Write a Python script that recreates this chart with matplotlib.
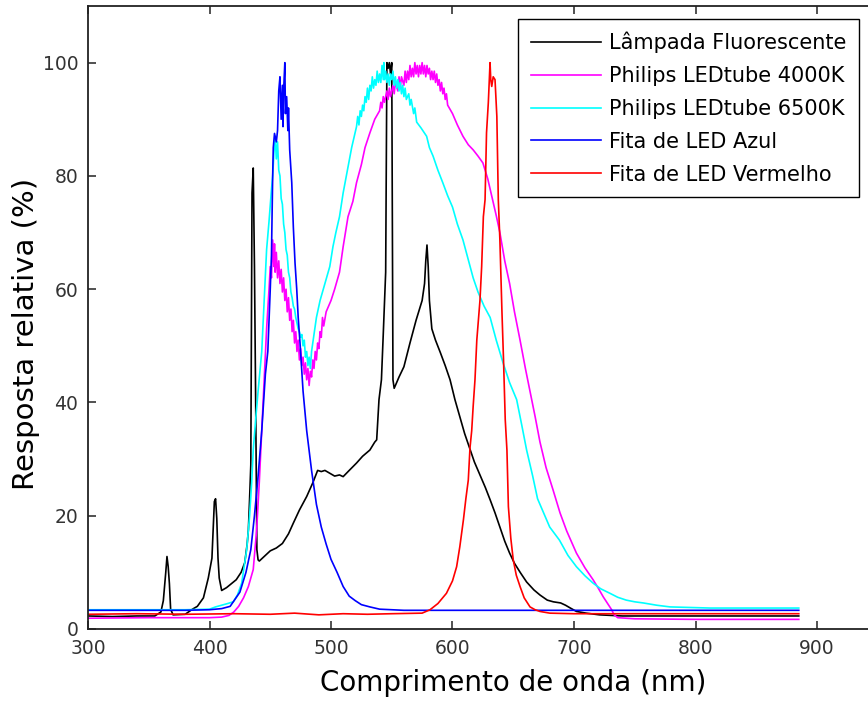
import matplotlib
matplotlib.use('Agg')
import matplotlib.pyplot as plt

# ---------------- data ----------------
fluor_nm = [300, 320, 340, 355, 360, 362, 364, 365, 366, 367, 368, 370, 380, 386, 390, 395, 399,
            402, 404, 405, 406, 407, 408, 410, 414, 418, 422, 426, 429, 431, 432, 433, 434, 435,
            436, 437, 438, 439, 440, 441, 445, 450, 455, 460, 465, 469, 474, 480, 485, 489, 492,
            495, 499, 503, 507, 510, 515, 521, 526, 532, 536, 537.6, 539.5, 541.5, 543, 545, 546,
            547, 548, 549, 550, 551, 552, 556, 560, 565, 570, 575, 577, 578, 579, 580, 581, 583,
            586, 590, 594, 598, 602, 606, 610, 614, 618, 623, 627, 631, 635, 639, 643, 647, 651,
            656, 661, 667, 672, 678, 683, 689, 693, 697, 702, 710, 721, 740, 800, 885]
fluor_val = [2.3, 2.2, 2.3, 2.3, 3.0, 5.0, 10.0, 12.8, 11.0, 8.0, 3.5, 2.5, 2.6, 3.5, 4.0, 5.5, 9.0,
             12.5, 22.5, 23.0, 19.5, 12.5, 9.0, 6.8, 7.3, 8.0, 8.7, 10.0, 11.7, 15.0, 17.5, 23.0,
             29.0, 77.0, 81.4, 64.0, 40.0, 14.0, 12.2, 12.0, 12.8, 13.8, 14.3, 15.1, 16.8, 18.7,
             21.0, 23.4, 25.8, 28.0, 27.8, 28.0, 27.5, 27.0, 27.2, 26.9, 28.0, 29.3, 30.5, 31.6,
             33.0, 33.4, 40.5, 44.0, 52.0, 63.0, 100.0, 99.0, 100.0, 98.0, 100.0, 44.0, 42.5, 44.5,
             46.3, 50.5, 54.5, 58.0, 61.0, 65.0, 67.8, 64.0, 58.0, 53.0, 51.0, 48.8, 46.5, 44.0,
             40.5, 37.5, 34.5, 32.0, 29.5, 27.0, 25.0, 22.8, 20.5, 18.0, 15.5, 13.4, 11.6, 9.9,
             8.3, 6.9, 6.0, 5.1, 4.8, 4.6, 4.2, 3.7, 3.1, 2.8, 2.5, 2.3, 2.3, 2.3]

led4000_nm = [300, 350, 400, 410, 416, 420, 424, 428, 432, 436, 438.8, 441, 443, 445, 447, 449, 450,
              451, 452, 453, 453.5, 454, 455, 456, 457, 458, 459, 460, 461, 462, 463, 464, 465, 466,
              467, 468, 469, 470, 471, 472, 473, 474, 475, 476, 477, 478, 479, 480, 481, 482, 483,
              484, 485, 486, 487, 488, 489, 490, 491, 492, 493, 494, 496, 500, 503, 507, 510, 514,
              518, 521, 525, 528, 532, 536, 540, 541, 542, 543, 544, 546, 547, 548, 549, 551, 552,
              553, 555, 556, 557, 558, 560, 561, 562, 563, 564, 565, 566, 567, 568, 569, 570, 571,
              572, 573, 574, 575, 576, 577, 578, 579, 580, 581, 582, 583, 584, 585, 586, 587, 588,
              589, 590, 591, 592, 593, 594, 595, 596, 600, 604, 608.6, 613, 617, 621, 625, 629, 633,
              636, 639, 643, 647, 651, 655.6, 660, 663.8, 668, 672, 677, 682.7, 688.5, 694, 702, 709,
              715.7, 720, 724, 728, 731, 733, 736, 750, 800, 885]
led4000_val = [1.9, 2.0, 2.0, 2.1, 2.4, 3.0, 4.0, 5.5, 7.5, 10.5, 17.5, 26.0, 35.0, 44.0, 53.0, 60.0,
               64.0, 62.0, 68.7, 64.0, 68.0, 63.0, 66.5, 62.0, 65.0, 61.0, 63.5, 59.5, 62.0, 58.0,
               60.0, 56.0, 58.5, 54.5, 56.5, 52.5, 54.5, 50.5, 52.5, 49.0, 51.0, 47.5, 49.5, 46.5,
               48.0, 45.0, 47.0, 44.0, 46.0, 43.0, 45.5, 44.5, 47.5, 46.0, 49.0, 47.5, 50.5, 49.5,
               52.5, 51.5, 55.0, 53.5, 56.0, 58.0, 60.0, 63.0, 67.5, 72.8, 75.5, 78.8, 82.0, 85.0,
               87.6, 90.0, 91.5, 93.0, 92.0, 94.0, 93.0, 95.0, 93.5, 95.5, 94.0, 96.0, 94.5, 96.5,
               95.0, 97.5, 95.5, 97.5, 96.0, 98.5, 96.5, 98.5, 97.0, 99.5, 97.5, 99.0, 97.5, 100.0,
               98.0, 99.5, 97.5, 99.5, 98.0, 100.0, 98.0, 99.5, 97.5, 99.5, 98.0, 99.0, 97.0, 98.5,
               97.0, 98.5, 96.5, 98.0, 96.0, 97.0, 95.0, 96.5, 94.5, 95.5, 93.5, 94.5, 92.5, 91.0,
               89.0, 87.0, 85.5, 84.6, 83.5, 82.3, 79.5, 75.8, 73.0, 70.0, 65.0, 61.0, 56.0, 51.0,
               46.0, 42.0, 37.5, 33.0, 28.5, 24.6, 20.5, 17.3, 13.4, 10.8, 8.7, 7.2, 5.7, 4.4, 3.4,
               2.5, 2.0, 1.8, 1.7, 1.7]

led6500_nm = [300, 380, 400, 405, 410, 415, 419.6, 423, 426.5, 430.6, 433, 434.7, 436, 438, 440, 443,
              445, 447, 449, 451, 452, 453, 454, 455, 456, 457, 458, 459, 460, 461, 462, 463, 464,
              465, 466, 467, 468, 469, 470, 471, 472, 473, 474, 475, 476, 477, 478, 479, 480, 481,
              482, 483, 484, 485, 488, 491, 495, 499, 501.6, 504, 507, 510, 514, 517, 521, 522, 523,
              524, 525, 526, 527, 528, 529, 530, 531, 532, 533, 534, 535, 536, 537, 538, 539, 540,
              541, 542, 543, 543.5, 544, 545, 546, 547, 548, 549, 550, 551, 552, 553, 554, 555, 556,
              557, 558, 559, 560, 561, 562, 564, 565, 566, 568, 569, 570.5, 574, 578.7, 581, 584,
              588, 592, 596, 600, 604, 608.6, 612, 617, 621, 626, 631, 636, 641.6, 647, 652.8, 657,
              661, 666, 670, 675, 680, 688, 695, 702, 709, 715.7, 722, 729.6, 736, 743, 750, 757,
              768, 779, 795, 812, 850, 885]
led6500_val = [3.4, 3.4, 3.5, 3.9, 4.2, 4.5, 4.8, 6.0, 8.1, 14.0, 20.0, 25.8, 31.6, 37.0, 42.0, 49.0,
               58.0, 67.0, 72.0, 77.6, 80.0, 84.0, 87.0, 83.0, 86.0, 81.0, 80.0, 76.0, 75.0, 71.5,
               70.0, 67.0, 66.0, 63.0, 62.0, 59.5, 58.5, 57.0, 56.5, 55.0, 54.0, 53.0, 52.5, 51.5,
               52.0, 50.0, 51.0, 48.0, 49.0, 46.5, 48.0, 46.0, 49.0, 50.5, 55.0, 58.0, 61.0, 64.0,
               67.5, 70.0, 72.8, 77.0, 81.6, 85.0, 88.7, 90.5, 89.0, 91.5, 90.5, 92.5, 91.5, 94.0,
               93.0, 95.5, 93.5, 96.0, 95.0, 97.5, 95.5, 97.0, 96.0, 98.5, 96.5, 98.0, 96.5, 99.5,
               97.0, 100.0, 97.0, 98.5, 96.5, 98.0, 96.0, 98.0, 97.0, 98.5, 96.0, 97.5, 95.5, 97.0,
               95.0, 96.5, 94.5, 96.0, 94.0, 95.5, 93.5, 94.5, 92.5, 93.5, 91.0, 92.0, 89.5, 88.5,
               87.0, 85.0, 83.5, 81.0, 78.8, 76.5, 74.5, 71.5, 68.7, 66.0, 62.0, 59.5, 57.0, 55.0,
               51.0, 47.0, 43.5, 40.5, 36.0, 31.6, 27.0, 23.0, 20.5, 18.0, 15.7, 13.0, 11.0, 9.4,
               8.1, 7.1, 6.3, 5.6, 5.1, 4.8, 4.6, 4.2, 3.9, 3.8, 3.7, 3.7, 3.7]

blue_nm = [300, 380, 400, 410, 417, 425, 430, 434, 437, 440, 443, 446, 448, 450, 451, 452, 452.5,
           453.5, 455, 456, 457, 458, 459, 460, 460.5, 461, 462, 462.5, 463.5, 464.5, 465, 466,
           467.7, 469, 470.4, 471.8, 473, 474.5, 477, 480, 484, 488, 492, 496, 500, 505, 510, 515,
           520, 525, 532, 540, 560, 600, 700, 800, 885]
blue_val = [3.3, 3.3, 3.4, 3.6, 4.0, 6.5, 10.0, 14.0, 20.0, 27.0, 35.0, 45.0, 49.0, 60.0, 66.0,
            80.0, 85.0, 87.5, 86.0, 88.0, 95.0, 97.5, 90.0, 96.0, 88.7, 95.0, 100.0, 91.0, 94.0,
            88.0, 92.0, 84.6, 78.8, 71.0, 64.6, 60.0, 55.0, 50.5, 42.0, 35.0, 28.0, 22.0, 18.0,
            15.0, 12.3, 10.0, 7.5, 5.8, 5.0, 4.3, 3.9, 3.5, 3.3, 3.3, 3.3, 3.3, 3.3]

red_nm = [300, 340, 380, 420, 450, 470, 490, 510, 530, 550, 575, 581.5, 588, 595, 600, 603.4, 606,
          609, 611, 613, 614.4, 615.8, 617, 618.5, 620, 622.6, 624, 625.4, 626.8, 628, 629.5,
          630.9, 631.5, 632.3, 633.5, 635, 636.5, 637.7, 639, 640.7, 642, 643.4, 644.8, 646, 648,
          650, 652.5, 655.6, 659, 663.8, 668, 672, 680, 700, 885]
red_val = [2.6, 2.7, 2.6, 2.7, 2.6, 2.8, 2.5, 2.7, 2.6, 2.7, 2.8, 3.4, 4.5, 6.3, 8.5, 11.0, 14.5,
           19.3, 23.0, 26.3, 32.0, 35.0, 39.3, 44.0, 51.0, 58.0, 64.0, 72.8, 75.8, 87.6, 93.0,
           100.0, 97.0, 95.8, 97.5, 97.0, 90.5, 75.8, 68.7, 56.0, 47.5, 37.0, 31.6, 21.6, 16.0,
           12.2, 9.5, 7.5, 5.5, 3.9, 3.4, 3.1, 2.8, 2.7, 2.7]

labels = ['Lâmpada Fluorescente', 'Philips LEDtube 4000K', 'Philips LEDtube 6500K',
          'Fita de LED Azul', 'Fita de LED Vermelho']
colors = ['#000000', '#ff00ff', '#00ffff', '#0000ff', '#ff0000']

x_ticks = [300, 400, 500, 600, 700, 800, 900]
y_ticks = [0, 20, 40, 60, 80, 100]

# ---------------- figure ----------------
plt.rcParams['font.family'] = ['DejaVu Sans']
W, H = 868, 701
PX_PER_NM = 1.215
fig = plt.figure(figsize=(W / 100, H / 100), dpi=100)
ax = fig.add_axes([88 / W, (H - 629) / H, 700 * PX_PER_NM / W, 623 / H])

series = [(fluor_nm, fluor_val), (led4000_nm, led4000_val), (led6500_nm, led6500_val),
          (blue_nm, blue_val), (red_nm, red_val)]
for (xs, ys), c, lab in zip(series, colors, labels):
    ax.plot(xs, ys, color=c, lw=1.2, label=lab)

ax.set_xlim(300, 1000)
ax.set_ylim(0, 110)
ax.set_xticks(x_ticks)
ax.set_yticks(y_ticks)
ax.tick_params(direction='in', top=True, right=True, length=6, width=1.1,
               labelsize=13.5, pad=7, labelcolor='#333333', color='#222222')
for s in ax.spines.values():
    s.set_linewidth(1.3)
    s.set_color('#222222')

ax.set_xlabel('Comprimento de onda (nm)', fontsize=20, labelpad=8)
ax.set_ylabel('Resposta relativa (%)', fontsize=21)
ax.yaxis.set_label_coords((40 - 88) / (700 * PX_PER_NM), (629 - 334) / 623)

leg = ax.legend(loc='upper left', bbox_to_anchor=(518 / W, 1 - 19 / H),
                bbox_transform=fig.transFigure, borderaxespad=0, fancybox=False,
                edgecolor='black', framealpha=1, fontsize=15, handlelength=3.4,
                handletextpad=0.35, labelspacing=0.62, borderpad=0.6)
leg.get_frame().set_linewidth(1.0)

fig.savefig('out.png', dpi=100)
